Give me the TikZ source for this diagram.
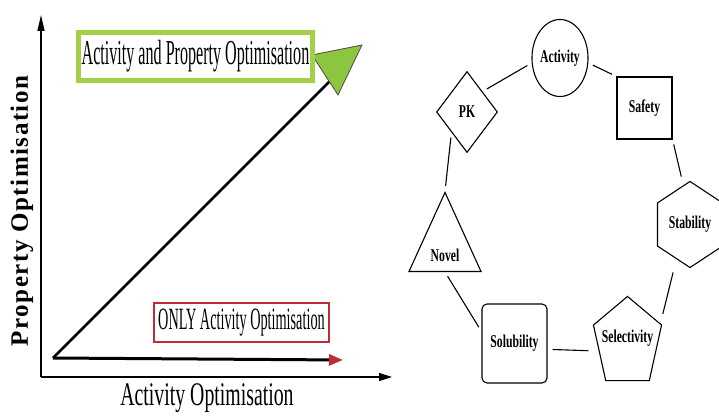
\documentclass[tikz,border=0pt]{standalone}
\usepackage{fontspec}
\setmainfont{Liberation Serif}
\newfontfamily\narrowfont[FakeStretch=0.46]{Liberation Serif}
\newfontfamily\axisfont[FakeStretch=0.6]{Liberation Serif}
\newfontfamily\shapefont[FakeStretch=0.65]{Liberation Serif}
\usetikzlibrary{arrows.meta,shapes.geometric,calc}

\definecolor{boxgreen}{RGB}{163,208,72}
\definecolor{tipgreen}{RGB}{140,198,63}
\definecolor{boxred}{RGB}{190,45,55}

\tikzset{
  prop/.style={draw, line width=1.1pt, inner sep=0pt, font=\shapefont\bfseries\fontsize{18}{20}\selectfont},
  link/.style={line width=1.1pt, shorten <=5pt, shorten >=5pt},
}

\begin{document}
\begin{tikzpicture}[x=1pt,y=1pt]
    \useasboundingbox (0,0) rectangle (719,418);

    % Axes
    \coordinate (o) at (41,41);
    \coordinate (xend) at (392,41);
    \coordinate (yend) at (41,403);
    \draw[line width=1.3pt, -{Triangle[length=13pt,width=8pt]}] (o) -- (xend);
    \draw[line width=1.3pt, -{Triangle[length=16pt,width=7pt]}] (o) -- (yend);

    % Axis labels
    \node[font=\axisfont\fontsize{33}{35}\selectfont] (xlab) at (207,20) {Activity Optimisation};
    \node[rotate=90, font=\bfseries\fontsize{25}{27}\selectfont] (ylab) at (22,207) {\addfontfeature{LetterSpace=6}Property Optimisation};

    % The two routes from the start point
    \coordinate (start) at (53,60);
    \coordinate (only) at (343,58);
    \coordinate (both) at (333,340);
    \draw[line width=3pt, -{Triangle[length=14pt,width=11pt,color=boxred]}] (start) -- (only);
    \draw[line width=2.6pt] (start) -- (both);
    \filldraw[fill=tipgreen, draw=black!70, line width=0.8pt] (312,363) -- (362,373) -- (338,323) -- cycle;

    % Route labels
    \node[draw=boxgreen, line width=5pt, minimum width=230pt, minimum height=48pt,
          font=\narrowfont\fontsize{35}{37}\selectfont] (bothbox) at (195.5,361.5) {Activity and Property Optimisation};
    \node[draw=boxred, line width=2.5pt, minimum width=175pt, minimum height=39pt,
          font=\narrowfont\fontsize{31}{33}\selectfont] (onlybox) at (241.5,95.5) {ONLY Activity Optimisation};

    % Properties in a ring
    \node[prop, ellipse, minimum width=55pt, minimum height=77pt] (act) at (560,360) {Activity};
    \node[prop, rectangle, minimum width=55pt, minimum height=62pt] (safety) at (644.5,310) {Safety};
    \node[prop, draw=none, minimum width=64pt, minimum height=85pt] (stab) at (690,193.5) {Stability};
    \node[prop, draw=none, minimum width=67pt, minimum height=83pt] (sel) at (627.5,79.5) {Selectivity};
    \node[prop, rounded corners=5pt, minimum width=65pt, minimum height=79pt] (sol) at (514.5,74.5) {Solubility};
    \node[prop, isosceles triangle, shape border rotate=90, isosceles triangle stretches,
          minimum width=72pt, minimum height=79pt, anchor=lower side] (novel) at (445,146) {Novel};
    \node[prop, diamond, minimum width=61pt, minimum height=81pt] (pk) at (467,306) {PK};

    % Hexagon and pentagon outlines
    \draw[line width=1.1pt] (stab.north) -- ($(stab.north east)!0.25!(stab.south east)$)
        -- ($(stab.north east)!0.75!(stab.south east)$) -- (stab.south)
        -- ($(stab.north west)!0.75!(stab.south west)$) -- ($(stab.north west)!0.25!(stab.south west)$) -- cycle;
    \draw[line width=1.1pt] (sel.north) -- ($(sel.south east)!0.66!(sel.north east)$)
        -- ($(sel.south west)!0.82!(sel.south east)$) -- ($(sel.south west)!0.18!(sel.south east)$)
        -- ($(sel.south west)!0.66!(sel.north west)$) -- cycle;

    % Links
    \draw[link] (act.190) -- (pk.north east);
    \draw[link] (act.-10) -- (safety.north west);
    \draw[link] (safety.south east) -- (stab.100);
    \draw[link] (stab.250) -- (sel.30);
    \draw[link] (sel.200) -- (sol.-10);
    \draw[link] (sol.160) -- (novel.lower side);
    \draw[link] (novel.apex) -- (pk.south west);
\end{tikzpicture}
\end{document}
